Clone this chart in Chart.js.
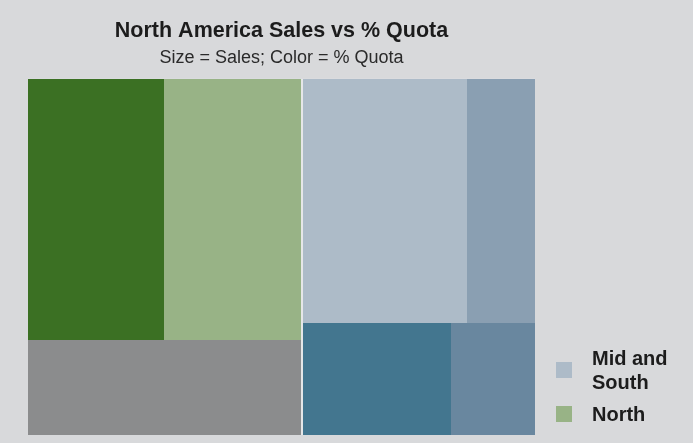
<!DOCTYPE html>
<html>
<head>
<meta charset="utf-8">
<script src="https://cdn.jsdelivr.net/npm/chart.js@4"></script>
<style>
  html, body { margin: 0; padding: 0; background: #d8d9db; }
  #wrap { position: relative; width: 693px; height: 443px; }
  #legend { position: absolute; left: 556px; top: 346px; font: bold 20px "Liberation Sans", Arial, sans-serif; color: #1c1c1c; }
  .item { display: flex; align-items: center; margin-bottom: 8px; }
  .box { width: 16px; height: 16px; margin-right: 20px; flex: none; }
  .txt { max-width: 85px; line-height: 24px; }
</style>
</head>
<body>
<div id="wrap">
  <canvas id="chart"></canvas>
  <div id="legend"></div>
</div>
<script>
// regions, left to right
const regions = ["North", "Mid and South"];
// one entry per cell
const cellNames = ["North 1", "North 2", "North 3", "Mid and South 1", "Mid and South 2", "Mid and South 3", "Mid and South 4"];
const cellRegion = ["North", "North", "North", "Mid and South", "Mid and South", "Mid and South", "Mid and South"];
const cellGroup = [0, 0, 1, 0, 0, 1, 1];
const sales = [355, 360, 260, 403, 166, 167, 94];

const cellColors = ["#3b7023", "#98b386", "#8b8c8d", "#adbbc8", "#8a9fb2", "#43768f", "#69879f"];
const legendLabels = ["Mid and South", "North"];
const legendColors = ["#adbbc8", "#98b386"];

const sum = (arr) => arr.reduce((a, b) => a + b, 0);

// slice and dice: regions across, groups down, cells across
function layout() {
    const rects = [];
    const total = sum(sales);
    let x = 0;
    regions.forEach((region, ri) => {
        const idx = sales.map((_, i) => i).filter((i) => cellRegion[i] === region);
        const regionTotal = sum(idx.map((i) => sales[i]));
        const w = regionTotal / total;
        const groups = [...new Set(idx.map((i) => cellGroup[i]))];
        let y = 0;
        groups.forEach((g) => {
            const gIdx = idx.filter((i) => cellGroup[i] === g);
            const gTotal = sum(gIdx.map((i) => sales[i]));
            const h = gTotal / regionTotal;
            let cx = x;
            gIdx.forEach((i) => {
                const cw = (sales[i] / gTotal) * w;
                rects.push({ i, ri, x0: cx, x1: cx + cw, y0: y, y1: y + h, rx0: x, rx1: x + w });
                cx += cw;
            });
            y += h;
        });
        x += w;
    });
    return rects;
}

const rects = layout();
const gap = 2;

const treemapPlugin = {
    id: "treemap",
    beforeDatasetsDraw(chart) {
        const { ctx, scales } = chart;
        const xs = scales.x, ys = scales.y;
        ctx.save();
        const a = chart.chartArea;
        ctx.fillStyle = "#e6e7e8";
        ctx.fillRect(a.left, a.top, a.right - a.left, a.bottom - a.top);
        rects.forEach((r) => {
            let left = Math.round(xs.getPixelForValue(r.x0));
            let right = Math.round(xs.getPixelForValue(r.x1));
            const top = Math.round(ys.getPixelForValue(r.y0));
            const bottom = Math.round(ys.getPixelForValue(r.y1));
            if (r.ri > 0 && Math.abs(r.x0 - r.rx0) < 1e-9) left += gap / 2;
            if (r.ri < regions.length - 1 && Math.abs(r.x1 - r.rx1) < 1e-9) right -= gap / 2;
            ctx.fillStyle = cellColors[r.i];
            ctx.fillRect(left, top, right - left, bottom - top);
        });
        ctx.restore();
    },
};

const ctx = document.getElementById("chart").getContext("2d");
const chart = new Chart(ctx, {
    type: "scatter",
    data: {
        datasets: [{ data: [], label: "Sales" }],
    },
    options: {
        responsive: true,
        maintainAspectRatio: false,
        animation: false,
        layout: { padding: { left: 28, right: 158, top: 0, bottom: 8 } },
        scales: {
            x: { type: "linear", min: 0, max: 1, display: false },
            y: { type: "linear", min: 0, max: 1, reverse: true, display: false },
        },
        plugins: {
            legend: { display: false },
            tooltip: { enabled: false },
            title: {
                display: true,
                text: "North America Sales vs % Quota",
                color: "#1c1c1c",
                font: { family: "'Liberation Sans', Arial, sans-serif", size: 21.5, weight: "bold", lineHeight: 1.2 },
                padding: { top: 18, bottom: 3.4 },
            },
            subtitle: {
                display: true,
                text: "Size = Sales; Color = % Quota",
                color: "#2a2a2a",
                font: { family: "'Liberation Sans', Arial, sans-serif", size: 18, weight: "normal", lineHeight: 1.2 },
                padding: { top: 0, bottom: 10 },
            },
        },
    },
    plugins: [treemapPlugin],
});

const legend = document.getElementById("legend");
legendLabels.forEach((label, i) => {
    const item = document.createElement("div");
    item.className = "item";
    item.innerHTML = `<div class="box" style="background:${legendColors[i]}"></div><div class="txt">${label}</div>`;
    legend.appendChild(item);
});
</script>
</body>
</html>
